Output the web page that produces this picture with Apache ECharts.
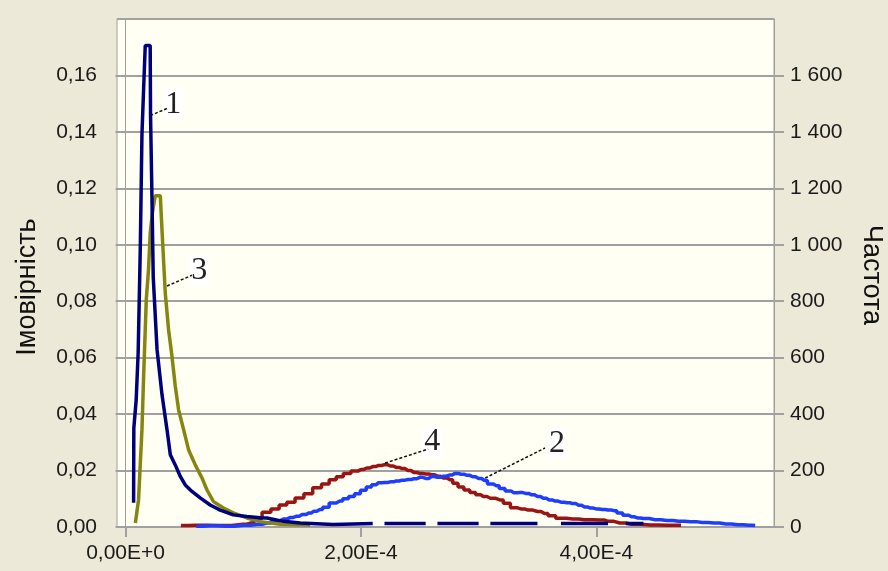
<!DOCTYPE html>
<html><head><meta charset="utf-8">
<script src="https://cdn.jsdelivr.net/npm/echarts@6/dist/echarts.min.js"></script>
<style>html,body{margin:0;padding:0;background:#ECE9D8;}#c{position:absolute;left:0;top:0;width:888px;height:571px;}</style>
</head><body><div id="c"></div><script>
// x in units of 1e-4
const xTickValues = [0, 2, 4];
const xTickLabels = ['0,00E+0', '2,00E-4', '4,00E-4'];
const yLeftName = 'Імовірність';
const yRightName = 'Частота';

// Curve 1 (probability, left axis)
const curve1 = [[0.068,0.0086],[0.07,0.035],[0.09,0.045],[0.107,0.062],[0.125,0.099],[0.139,0.139],[0.153,0.155],[0.167,0.1706],[0.19,0.1706],[0.209,0.1706],[0.212,0.146],[0.222,0.122],[0.235,0.0885],[0.267,0.063],[0.309,0.047],[0.352,0.0345],[0.38,0.0256],[0.422,0.022],[0.465,0.0179],[0.507,0.0149],[0.564,0.0126],[0.634,0.0103],[0.719,0.0078],[0.804,0.006],[0.915,0.0043],[1.031,0.0037],[1.144,0.0033],[1.2,0.0032],[1.34,0.002],[1.484,0.0014],[1.764,0.0009],[2.1,0.0012],[2.15,null],[2.2,0.0012],[2.55,0.0012],[2.6,null],[2.65,0.0012],[3.0,0.0012],[3.05,null],[3.1,0.0012],[3.5,0.0012],[3.55,null],[3.7,0.0012],[4.1,0.0012],[4.15,null],[4.25,0.0012],[4.4,0.0012]];
// Curve 3 (probability, left axis)
const curve3 = [[0.083,0.0014],[0.11,0.0096],[0.139,0.0345],[0.153,0.053],[0.176,0.0807],[0.195,0.0914],[0.21,0.1045],[0.229,0.1116],[0.252,0.1174],[0.295,0.1174],[0.309,0.1056],[0.337,0.083],[0.365,0.070],[0.394,0.0605],[0.422,0.05],[0.45,0.0416],[0.493,0.0345],[0.535,0.0274],[0.592,0.022],[0.649,0.0174],[0.691,0.0132],[0.747,0.009],[0.832,0.0067],[0.915,0.005],[1.031,0.0032],[1.144,0.0019],[1.314,0.001],[1.568,0.0007]];
// Curve 2 (frequency, right axis)
const curve2 = [[0.6,3],[0.72,4],[0.85,3],[1.0,6],[1.12,10],[1.2,14],[1.28,22],[1.34,28],[1.4,34],[1.45,38],[1.5,44],[1.56,50],[1.6,56],[1.65,62],[1.7,70],[1.76,85],[1.82,92],[1.87,100],[1.92,108],[1.97,118],[2.02,130],[2.07,142],[2.11,150],[2.15,157],[2.2,158],[2.25,160],[2.3,163],[2.35,166],[2.4,168],[2.45,171],[2.5,176],[2.55,172],[2.6,179],[2.65,176],[2.7,180],[2.75,184],[2.8,190],[2.85,187],[2.9,183],[2.95,178],[3.0,172],[3.05,165],[3.1,152],[3.15,146],[3.2,136],[3.25,128],[3.3,121],[3.35,122],[3.4,119],[3.45,114],[3.5,108],[3.55,102],[3.6,96],[3.65,92],[3.7,88],[3.75,86],[3.8,83],[3.85,77],[3.9,71],[3.95,67],[4.0,64],[4.05,62],[4.1,60],[4.15,58],[4.2,50],[4.25,42],[4.3,36],[4.35,32],[4.4,30],[4.5,26],[4.6,23],[4.7,20],[4.8,19],[4.9,16],[5.0,14],[5.1,11],[5.2,8],[5.3,6],[5.35,5]];
// Curve 4 (frequency, right axis)
const curve4 = [[0.47,5],[0.6,6],[0.8,5],[1.0,10],[1.06,14],[1.12,30],[1.2,52],[1.27,64],[1.34,78],[1.4,88],[1.48,103],[1.55,118],[1.63,139],[1.7,152],[1.76,167],[1.82,178],[1.88,190],[1.95,198],[2.0,204],[2.05,209],[2.1,214],[2.15,218],[2.2,221],[2.25,216],[2.3,211],[2.35,207],[2.4,200],[2.45,193],[2.5,190],[2.55,188],[2.6,185],[2.65,180],[2.7,174],[2.76,167],[2.8,155],[2.85,142],[2.9,131],[2.95,122],[3.0,114],[3.04,108],[3.1,102],[3.18,96],[3.24,84],[3.3,68],[3.36,64],[3.42,60],[3.5,55],[3.56,48],[3.62,40],[3.69,31],[3.8,28],[3.9,26],[4.03,25],[4.1,20],[4.2,14],[4.3,10],[4.46,7],[4.6,6],[4.72,6]];

// Annotations (left-axis data coordinates)
const annLabels = ['1', '3', '4', '2'];
const annPoint = [[0.21,0.1458],[0.352,0.0854],[2.205,0.02265],[3.055,0.01732]];
const annEnd = [[0.352,0.1483],[0.564,0.0892],[2.571,0.0276],[3.564,0.028]];
const annText = [[0.405,0.1497],[0.626,0.091],[2.605,0.0302],[3.666,0.0295]];

const chart = echarts.init(document.getElementById('c'), null, {renderer: 'canvas'});
const gridColor = '#a0a0a0';
const labelFont = {color: '#1a1a1a', fontSize: 21, fontFamily: 'Liberation Sans, Arial, sans-serif'};

function fmtLeft(v) { return v.toFixed(2).replace('.', ','); }
function fmtRight(v) { return String(Math.round(v)).replace(/\B(?=(\d{3})+(?!\d))/g, ' '); }
function fmtX(v) { const i = xTickValues.indexOf(v); return i >= 0 ? xTickLabels[i] : ''; }

const lineBase = {type: 'line', showSymbol: false, symbol: 'none', connectNulls: false, animation: false};

chart.setOption({
  backgroundColor: '#ECE9D8',
  animation: false,
  grid: {left: 117, right: 114, top: 19, bottom: 44, show: true, backgroundColor: '#FFFFF4', borderColor: gridColor, borderWidth: 1},
  xAxis: {
    type: 'value', min: -0.073, max: 5.51,
    axisLine: {show: true, lineStyle: {color: gridColor, width: 1}},
    axisTick: {show: true, length: 10, customValues: xTickValues, lineStyle: {color: gridColor, width: 2}},
    axisLabel: Object.assign({customValues: xTickValues, formatter: fmtX, margin: 16}, labelFont),
    splitLine: {show: false}
  },
  yAxis: [
    {
      type: 'value', min: 0, max: 0.18, interval: 0.02, position: 'left',
      axisLine: {show: true, lineStyle: {color: gridColor, width: 1}},
      axisTick: {show: true, length: 10, lineStyle: {color: gridColor, width: 2}},
      axisLabel: Object.assign({formatter: fmtLeft, margin: 20, showMaxLabel: false}, labelFont),
      splitLine: {show: true, lineStyle: {color: gridColor, width: 2}}
    },
    {
      type: 'value', min: 0, max: 1800, interval: 200, position: 'right',
      axisLine: {show: true, lineStyle: {color: gridColor, width: 1}},
      axisTick: {show: true, length: 10, lineStyle: {color: gridColor, width: 2}},
      axisLabel: Object.assign({formatter: fmtRight, margin: 16, showMaxLabel: false}, labelFont),
      splitLine: {show: false}
    }
  ],
  series: [
    Object.assign({}, lineBase, {name: '4', yAxisIndex: 1, data: curve4, step: 'middle', lineStyle: {color: '#9a1414', width: 3.5}}),
    Object.assign({}, lineBase, {name: '2', yAxisIndex: 1, data: curve2, step: 'middle', lineStyle: {color: '#1f3dff', width: 3.5}}),
    Object.assign({}, lineBase, {name: '3', yAxisIndex: 0, data: curve3, lineStyle: {color: '#85850f', width: 3.5}}),
    Object.assign({}, lineBase, {name: '1', yAxisIndex: 0, data: curve1, lineStyle: {color: '#00007f', width: 3.5}})
  ]
});

const graphics = [
  {type: 'text', x: 28, y: 287, rotation: Math.PI / 2, style: {text: yLeftName, fill: '#111', font: '27px "Liberation Sans", Arial, sans-serif', align: 'center', verticalAlign: 'middle'}},
  {type: 'text', x: 871, y: 275, rotation: -Math.PI / 2, style: {text: yRightName, fill: '#111', font: '27px "Liberation Sans", Arial, sans-serif', align: 'center', verticalAlign: 'middle'}}
];
for (let i = 0; i < annLabels.length; i++) {
  const p = chart.convertToPixel({xAxisIndex: 0, yAxisIndex: 0}, annPoint[i]);
  const e = chart.convertToPixel({xAxisIndex: 0, yAxisIndex: 0}, annEnd[i]);
  const t = chart.convertToPixel({xAxisIndex: 0, yAxisIndex: 0}, annText[i]);
  graphics.push({type: 'text', x: t[0], y: t[1], z: 100, style: {text: annLabels[i], fill: '#222', font: '32px "Liberation Serif", "Times New Roman", serif', align: 'center', verticalAlign: 'middle', backgroundColor: '#ffffff', padding: [0, 2]}});
  graphics.push({type: 'line', z: 101, shape: {x1: p[0], y1: p[1], x2: e[0], y2: e[1]}, style: {stroke: '#111', lineWidth: 1.5, lineDash: [3, 2]}});
}
chart.setOption({graphic: graphics});
</script></body></html>
